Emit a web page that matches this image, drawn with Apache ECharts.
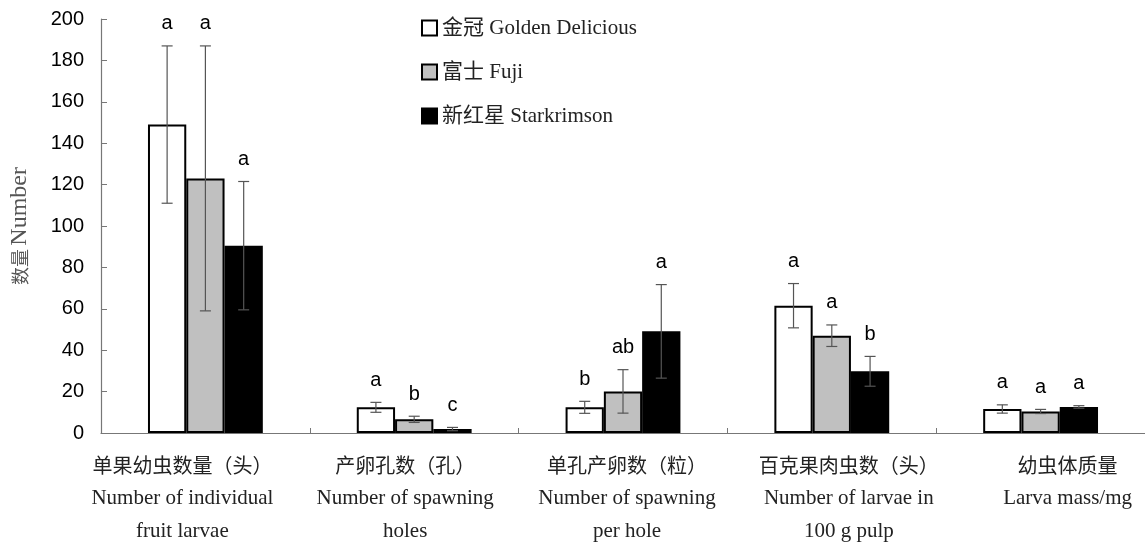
<!DOCTYPE html>
<html>
<head>
<meta charset="utf-8">
<script src="https://cdn.jsdelivr.net/npm/echarts@6/dist/echarts.min.js"></script>
<style>
  html, body { margin: 0; padding: 0; background: #ffffff; }
  #chart { width: 1145px; height: 543px; }
</style>
</head>
<body>
<div id="chart"></div>
<script>
// Measured traits of codling moth larvae in three apple cultivars
const categoriesCn = ['单果幼虫数量（头）', '产卵孔数（孔）', '单孔产卵数（粒）', '百克果肉虫数（头）', '幼虫体质量'];
const categoriesEn = [
  ['Number of individual', 'fruit larvae'],
  ['Number of spawning', 'holes'],
  ['Number of spawning', 'per hole'],
  ['Number of larvae in', '100 g pulp'],
  ['Larva mass/mg']
];

const seriesNames = ['金冠 Golden Delicious', '富士 Fuji', '新红星 Starkrimson'];

const goldenMean = [149, 12.4, 12.4, 61.5, 11.6];
const goldenErr  = [38, 2.4, 2.9, 10.7, 2.0];
const goldenSig  = ['a', 'a', 'b', 'a', 'a'];

const fujiMean = [123, 6.6, 20.1, 47, 10.4];
const fujiErr  = [64, 1.5, 10.5, 5.2, 1.0];
const fujiSig  = ['a', 'b', 'ab', 'a', 'a'];

const starMean = [90.5, 1.9, 49.1, 29.8, 12.6];
const starErr  = [31, 0.8, 22.6, 7.2, 0.6];
const starSig  = ['a', 'c', 'a', 'b', 'a'];

const yTicks = { min: 0, max: 200, interval: 20 };

// Horizontal nudges for the multi-line category captions (px)
const captionNudge = [-23, -9, 4, 17, 27];

const BAR_GAP = 0.45;
const barFills = ['#ffffff', '#c0c0c0', '#000000'];

const chart = echarts.init(document.getElementById('chart'), null, { renderer: 'canvas' });

function barSeries(name, values, k) {
  return {
    name: name,
    type: 'bar',
    data: values,
    barGap: '0%',
    barCategoryGap: (BAR_GAP * 100) + '%',
    itemStyle: { color: barFills[k], borderColor: '#000000', borderWidth: 2 },
    emphasis: { disabled: true },
    z: 2
  };
}

function errorSeries(values, errors, letters, k) {
  return {
    type: 'custom',
    z: 5,
    silent: true,
    data: values.map((v, i) => [i, v, errors[i]]),
    renderItem: function (params, api) {
      const idx = api.value(0);
      const v = api.value(1);
      const e = api.value(2);
      const band = api.size([1, 0])[0];
      const barW = band * (1 - BAR_GAP) / 3;
      const x = api.coord([idx, 0])[0] + (k - 1) * barW;
      const yHi = api.coord([idx, v + e])[1];
      const yLo = api.coord([idx, Math.max(0, v - e)])[1];
      const cap = 5.5;
      const st = { stroke: '#555555', lineWidth: 1.2 };
      return {
        type: 'group',
        children: [
          { type: 'line', shape: { x1: x, y1: yHi, x2: x, y2: yLo }, style: st },
          { type: 'line', shape: { x1: x - cap, y1: yHi, x2: x + cap, y2: yHi }, style: st },
          { type: 'line', shape: { x1: x - cap, y1: yLo, x2: x + cap, y2: yLo }, style: st },
          {
            type: 'text',
            x: x,
            y: yHi - 22,
            style: {
              text: letters[params.dataIndex],
              align: 'center',
              verticalAlign: 'middle',
              fontFamily: 'Liberation Sans, Arial, sans-serif',
              fontSize: 20,
              fill: '#000000'
            }
          }
        ]
      };
    }
  };
}

const xData = categoriesCn.map((cn, i) => {
  const n = captionNudge[i];
  return {
    value: cn,
    textStyle: { padding: n < 0 ? [0, -2 * n, 0, 0] : [0, 0, 0, 2 * n] }
  };
});

const option = {
  backgroundColor: '#ffffff',
  animation: false,
  grid: { left: 99, right: 0, top: 19, bottom: 110, containLabel: false },
  legend: {
    data: seriesNames,
    orient: 'vertical',
    left: 416,
    top: 12,
    itemWidth: 15,
    itemHeight: 15,
    itemGap: 22,
    icon: 'rect',
    selectedMode: false,
    textStyle: {
      fontFamily: 'Liberation Serif, Noto Sans CJK SC, serif',
      fontSize: 21,
      color: '#222222',
      lineHeight: 22
    }
  },
  xAxis: {
    type: 'category',
    data: xData,
    axisLine: { lineStyle: { color: '#777777', width: 1.2 } },
    axisTick: { show: true, inside: true, length: 5, lineStyle: { color: '#777777' } },
    axisLabel: {
      interval: 0,
      margin: 16,
      formatter: function (value, index) {
        const en = categoriesEn[index].map(s => '{en|' + s + '}').join('\n');
        return '{cn|' + value + '}\n' + en;
      },
      rich: {
        cn: {
          fontFamily: 'Noto Sans CJK SC, sans-serif',
          fontSize: 20,
          color: '#222222',
          lineHeight: 33
        },
        en: {
          fontFamily: 'Liberation Serif, Times New Roman, serif',
          fontSize: 21,
          color: '#222222',
          lineHeight: 33
        }
      }
    }
  },
  yAxis: {
    type: 'value',
    min: yTicks.min,
    max: yTicks.max,
    interval: yTicks.interval,
    name: '{cn|数量} {en|Number}',
    nameLocation: 'middle',
    nameGap: 69,
    nameRotate: 90,
    nameTextStyle: {
      color: '#555555',
      rich: {
        cn: { fontFamily: 'Noto Sans CJK SC, sans-serif', fontSize: 18, color: '#555555' },
        en: { fontFamily: 'Liberation Serif, Times New Roman, serif', fontSize: 24, color: '#555555' }
      }
    },
    axisLine: { show: true, lineStyle: { color: '#777777', width: 1.2 } },
    axisTick: { show: true, inside: true, length: 6, lineStyle: { color: '#777777' } },
    splitLine: { show: false },
    axisLabel: {
      margin: 17,
      fontFamily: 'Liberation Sans, Arial, sans-serif',
      fontSize: 20,
      color: '#000000'
    }
  },
  series: [
    barSeries(seriesNames[0], goldenMean, 0),
    barSeries(seriesNames[1], fujiMean, 1),
    barSeries(seriesNames[2], starMean, 2),
    errorSeries(goldenMean, goldenErr, goldenSig, 0),
    errorSeries(fujiMean, fujiErr, fujiSig, 1),
    errorSeries(starMean, starErr, starSig, 2)
  ]
};

chart.setOption(option);
</script>
</body>
</html>
